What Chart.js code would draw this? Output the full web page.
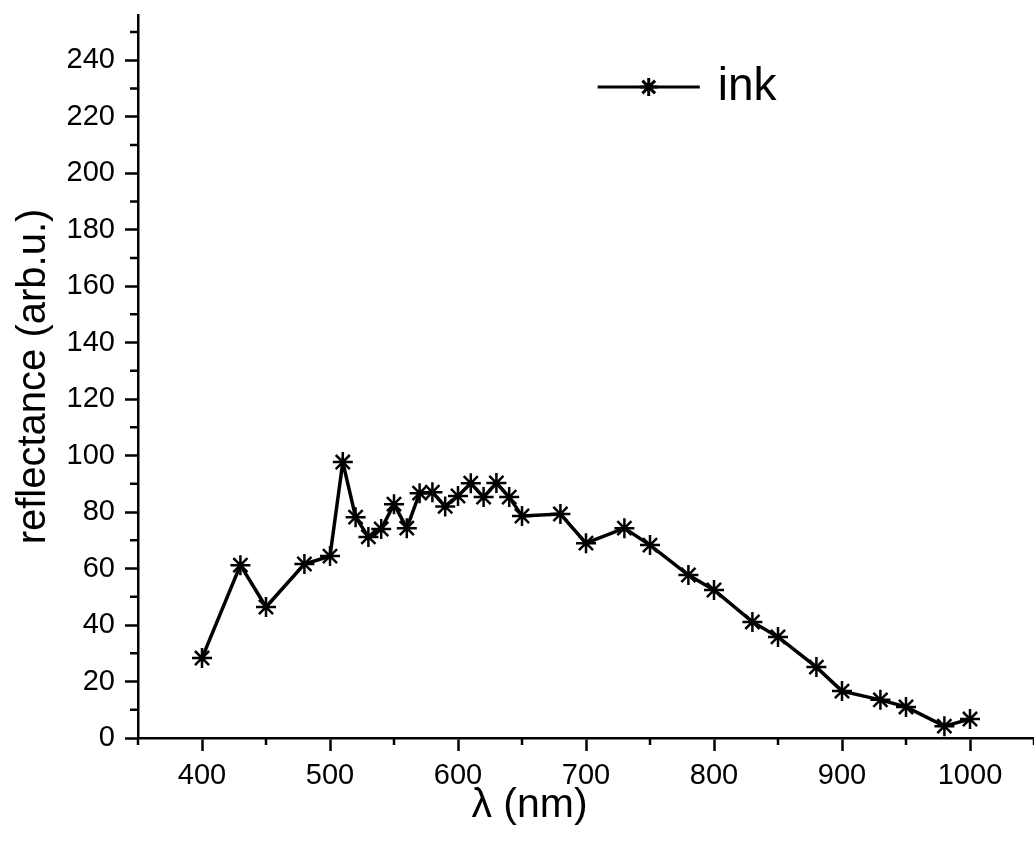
<!DOCTYPE html>
<html>
<head>
<meta charset="utf-8">
<script src="https://cdn.jsdelivr.net/npm/chart.js@4"></script>
<style>
  html, body { margin: 0; padding: 0; background: #fff; }
  #wrap { width: 1034px; height: 859px; }
</style>
</head>
<body>
<div id="wrap"><canvas id="inkChart" width="1034" height="859"></canvas></div>
<script>
// 反射スペクトル (ink)
const wavelength = [400, 430, 450, 480, 500, 510, 520, 530, 540, 550, 560, 570, 580, 590, 600, 610, 620, 630, 640, 650, 680, 700, 730, 750, 780, 800, 830, 850, 880, 900, 930, 950, 980, 1000];
const reflectance = [28.3, 61.2, 46.4, 61.6, 64.4, 97.7, 78.2, 71.2, 74.0, 82.8, 74.3, 86.7, 87.0, 82.0, 85.7, 90.2, 85.3, 90.3, 85.3, 78.6, 79.3, 69.0, 74.3, 68.3, 57.7, 52.4, 41.1, 35.8, 25.1, 16.6, 13.5, 11.0, 4.2, 6.7];
const xTicks = [400, 500, 600, 700, 800, 900, 1000];
const xMinorTicks = [350, 450, 550, 650, 750, 850, 950, 1050];
const yTicks = [0, 20, 40, 60, 80, 100, 120, 140, 160, 180, 200, 220, 240];
const yMinorTicks = [10, 30, 50, 70, 90, 110, 130, 150, 170, 190, 210, 230, 250];
const seriesName = 'ink';

const FONT = "'Liberation Sans', Arial, sans-serif";

// 副目盛り
const minorTicks = {
    id: 'minorTicks',
    afterDraw(chart) {
        const { ctx, scales: { x, y } } = chart;
        ctx.save();
        ctx.strokeStyle = '#000';
        ctx.lineWidth = 2.5;
        ctx.beginPath();
        xMinorTicks.forEach(v => {
            const px = x.getPixelForValue(v);
            ctx.moveTo(px, x.top);
            ctx.lineTo(px, x.top + 7);
        });
        yMinorTicks.forEach(v => {
            const py = y.getPixelForValue(v);
            ctx.moveTo(y.right, py);
            ctx.lineTo(y.right - 8, py);
        });
        ctx.stroke();
        ctx.restore();
    }
};

// 凡例と x 軸タイトル
const legendAndTitle = {
    id: 'legendAndTitle',
    afterDraw(chart) {
        const { ctx, chartArea: a } = chart;
        const w = a.right - a.left;
        ctx.save();
        const ly = a.top + 72;
        const lx0 = a.left + w * 0.513;
        const lx1 = a.left + w * 0.627;
        ctx.strokeStyle = '#000';
        ctx.lineWidth = 3;
        ctx.beginPath();
        ctx.moveTo(lx0, ly);
        ctx.lineTo(lx1, ly);
        ctx.stroke();
        Chart.helpers.drawPoint(ctx, { pointStyle: 'star', radius: 9, borderWidth: 2 }, (lx0 + lx1) / 2, ly);
        ctx.fillStyle = '#000';
        ctx.font = '46px ' + FONT;
        ctx.textBaseline = 'middle';
        ctx.textAlign = 'left';
        ctx.fillText(seriesName, lx1 + 18, ly);

        ctx.font = '41px ' + FONT;
        ctx.textAlign = 'center';
        ctx.fillText('λ (nm)', a.left + w * 0.437, 806);
        ctx.restore();
    }
};

new Chart(document.getElementById('inkChart'), {
    type: 'scatter',
    data: {
        datasets: [{
            label: seriesName,
            data: wavelength.map((w, i) => ({ x: w, y: reflectance[i] })),
            showLine: true,
            borderColor: '#000',
            borderWidth: 3.5,
            pointStyle: 'star',
            pointRadius: 10,
            pointBorderWidth: 2.5,
            pointBorderColor: '#000',
            pointBackgroundColor: '#000'
        }]
    },
    options: {
        responsive: false,
        animation: false,
        layout: { autoPadding: false, padding: { top: 15, right: 0, left: 0, bottom: 0 } },
        plugins: { legend: { display: false }, tooltip: { enabled: false } },
        scales: {
            x: {
                type: 'linear',
                min: 350,
                max: 1050,
                afterBuildTicks: s => { s.ticks = xTicks.map(v => ({ value: v })); },
                afterFit: s => { s.height = 121; s.paddingLeft = 0; s.paddingRight = 0; },
                border: { display: true, color: '#000', width: 2.5 },
                grid: { drawOnChartArea: false, drawTicks: true, tickLength: 13, tickWidth: 2.5, tickColor: '#000' },
                ticks: { color: '#000', padding: 8, maxRotation: 0, font: { size: 29, family: FONT }, callback: v => String(v) }
            },
            y: {
                min: 0,
                max: 256,
                afterBuildTicks: s => { s.ticks = yTicks.map(v => ({ value: v })); },
                afterFit: s => { s.width = 138; s.paddingTop = 0; s.paddingBottom = 0; },
                border: { display: true, color: '#000', width: 2.5 },
                grid: { drawOnChartArea: false, drawTicks: true, tickLength: 13, tickWidth: 2.5, tickColor: '#000' },
                ticks: { color: '#000', padding: 10, font: { size: 29, family: FONT }, callback: v => String(v) },
                title: {
                    display: true,
                    text: 'reflectance (arb.u.)',
                    color: '#000',
                    padding: { top: 10, bottom: 0 },
                    font: { size: 40, family: FONT }
                }
            }
        }
    },
    plugins: [minorTicks, legendAndTitle]
});
</script>
</body>
</html>
